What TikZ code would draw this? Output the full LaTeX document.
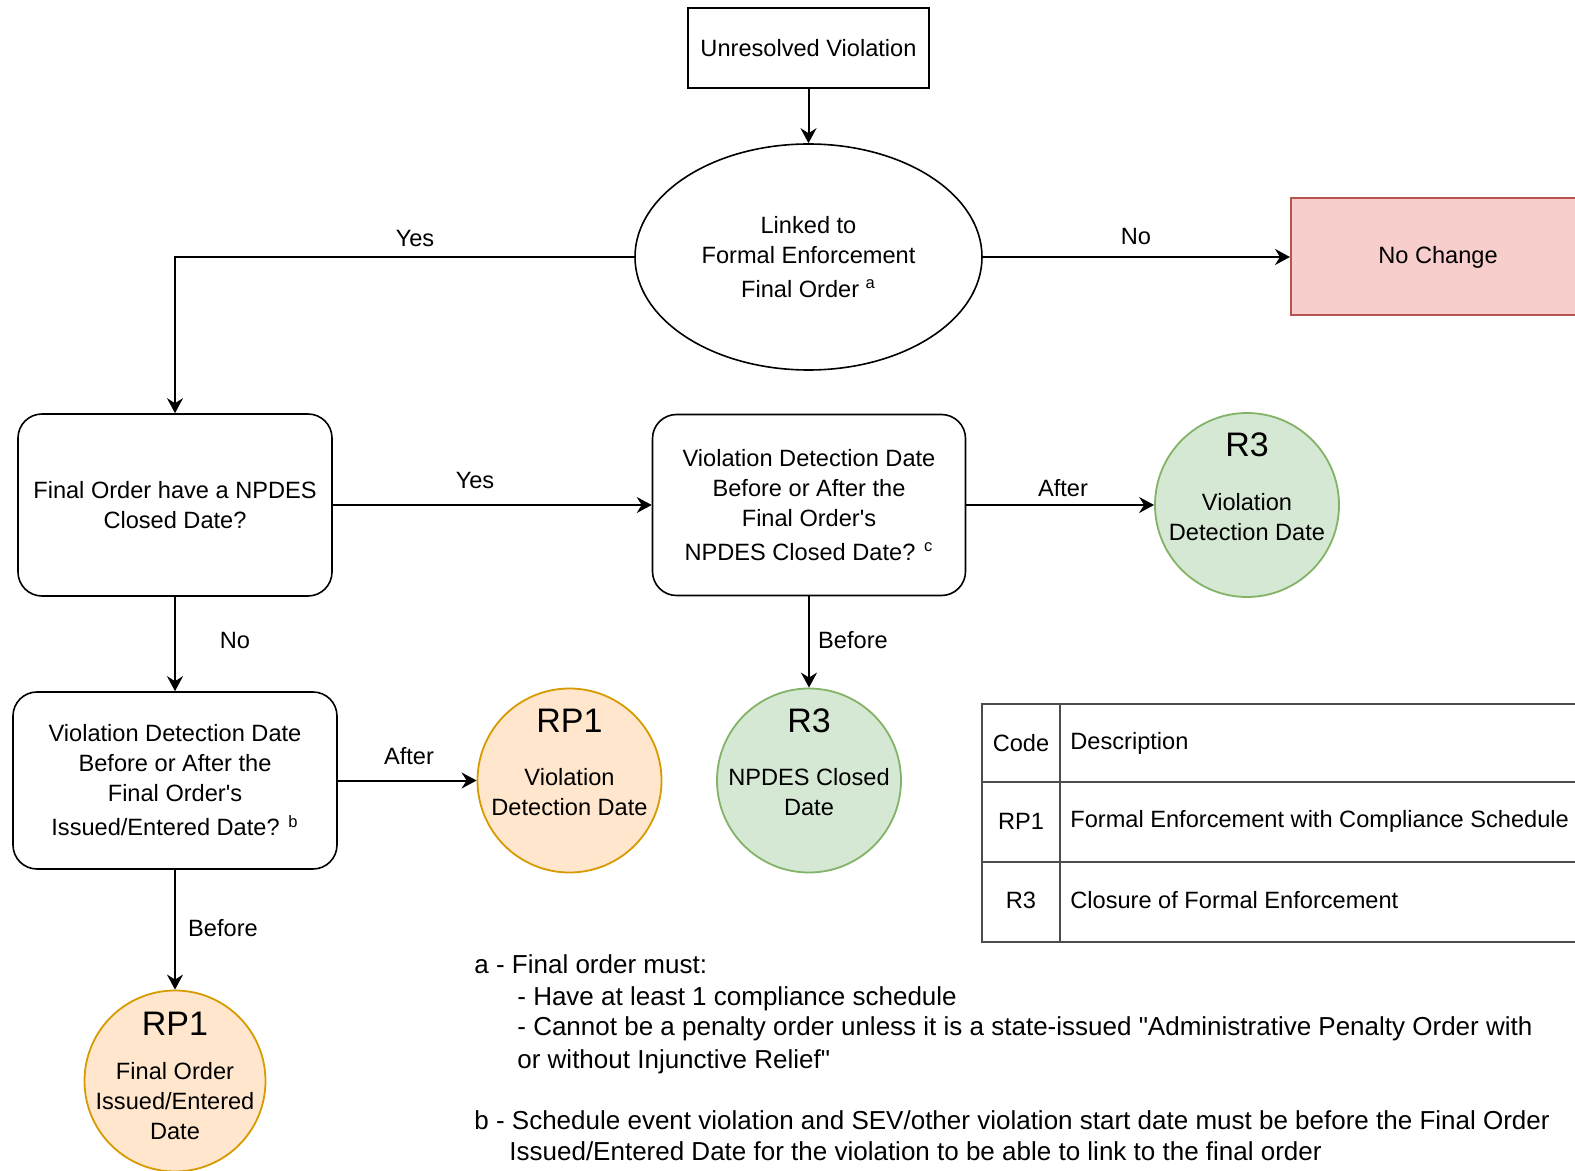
\documentclass[tikz,border=0pt]{standalone}
\usepackage{fontspec}
\setmainfont{Liberation Sans}[Ligatures=TeXOff]
\usetikzlibrary{shapes.geometric,arrows.meta,calc}
\definecolor{ncfill}{HTML}{F8CECC}
\definecolor{ncdraw}{HTML}{B85450}
\definecolor{gfill}{HTML}{D5E8D4}
\definecolor{gdraw}{HTML}{82B366}
\definecolor{ofill}{HTML}{FFE6CC}
\definecolor{odraw}{HTML}{D79B00}
\begin{document}
\begin{tikzpicture}[x=0.5pt,y=-0.5pt,
  every node/.style={font=\fontsize{11.8}{15}\selectfont, text=black},
  sqbox/.style={draw, line width=0.8pt, align=center, inner sep=0pt},
  rbox/.style={draw, line width=0.8pt, rounded corners=12pt, align=center, inner sep=0pt},
  decis/.style={draw, ellipse, line width=0.8pt, align=center, inner sep=0pt},
  ncbox/.style={draw=ncdraw, fill=ncfill, line width=1pt, inner sep=0pt},
  gcirc/.style={circle, draw=gdraw, fill=gfill, line width=0.9pt, minimum size=92pt, inner sep=0pt},
  ocirc/.style={circle, draw=odraw, fill=ofill, line width=0.9pt, minimum size=92pt, inner sep=0pt},
  big/.style={font=\fontsize{17}{20}\selectfont},
  ctext/.style={align=center, inner sep=0pt},
  arr/.style={-{Stealth[length=7.5pt,width=8pt,inset=2.5pt]}, line width=1pt},
  tbl/.style={draw=black!70, line width=0.7pt},
  note/.style={anchor=base west, inner sep=0pt, font=\fontsize{13}{15.5}\selectfont}
]
\useasboundingbox (0,0) rectangle (1575,1171);
\clip (0,0) rectangle (1575,1171);

% main nodes
\node[sqbox, minimum width=120.5pt, minimum height=40pt] (uv) at (808.5,48) {Unresolved Violation};
\node[decis, minimum width=173.5pt, minimum height=113pt] (lk) at (808.5,257) {Linked to\\Formal Enforcement\\[2pt]Final Order \textsuperscript{a}};
\node[ncbox, minimum width=147pt, minimum height=58.5pt] (nc) at (1438,257) {No Change};
\node[rbox, minimum width=157pt, minimum height=91pt] (b1) at (175,505) {Final Order have a NPDES\\Closed Date?};
\node[rbox, minimum width=156.5pt, minimum height=90.5pt] (b2) at (809,505) {Violation Detection Date\\Before or After the\\Final Order's\\[2pt]NPDES Closed Date? \textsuperscript{c}};
\node[rbox, minimum width=162pt, minimum height=88.5pt] (b3) at (175,780.5) {Violation Detection Date\\Before or After the\\Final Order's\\[2pt]Issued/Entered Date? \textsuperscript{b}};

% result circles
\node[gcirc] (g1) at (1247,505) {};
\node[big] (g1t) at ($(g1)+(0,-60)$) {R3};
\node[ctext] (g1s) at ($(g1)+(0,12)$) {Violation\\Detection Date};

\node[gcirc] (g2) at (809,780.5) {};
\node[big] (g2t) at ($(g2)+(0,-60)$) {R3};
\node[ctext] (g2s) at ($(g2)+(0,12)$) {NPDES Closed\\Date};

\node[ocirc] (o1) at (569.5,780.5) {};
\node[big] (o1t) at ($(o1)+(0,-60)$) {RP1};
\node[ctext] (o1s) at ($(o1)+(0,12)$) {Violation\\Detection Date};

\node[ocirc, minimum size=90.5pt] (o2) at (175,1081) {};
\node[big] (o2t) at ($(o2)+(0,-57)$) {RP1};
\node[ctext] (o2s) at ($(o2)+(0,20)$) {Final Order\\Issued/Entered\\Date};

% connectors
\draw[arr] (uv) -- (lk);
\draw[arr] (lk.west) -| (b1.north);
\draw[arr] (lk.east) -- (nc.west);
\draw[arr] (b1) -- (b2);
\draw[arr] (b2) -- (g1);
\draw[arr] (b2) -- (g2);
\draw[arr] (b1) -- (b3);
\draw[arr] (b3) -- (o1);
\draw[arr] (b3) -- (o2);

% edge labels
\node (l1) at (415,238) {Yes};
\node (l2) at (1136,237) {No};
\node (l3) at (475,480) {Yes};
\node (l4) at (1063,488) {After};
\node (l5) at (853,640) {Before};
\node (l6) at (235,640) {No};
\node (l7) at (409,756) {After};
\node (l8) at (223,928) {Before};

% table
\draw[tbl] (982,704) rectangle (1600,942);
\draw[tbl] (982,782) -- (1600,782);
\draw[tbl] (982,862) -- (1600,862);
\draw[tbl] (1060,704) -- (1060,942);
\node (t11) at (1021,743) {Code};
\node[anchor=west, inner sep=0pt] (t12) at (1070,743) {Description};
\node (t21) at (1021,821) {RP1};
\node[anchor=west, inner sep=0pt] (t22) at (1070,821) {Formal Enforcement with Compliance Schedule};
\node (t31) at (1021,900) {R3};
\node[anchor=west, inner sep=0pt] (t32) at (1070,900) {Closure of Formal Enforcement};

% notes
\node[note] (na1) at (474,973) {a - Final order must:};
\node[note] (na2) at (517,1005) {- Have at least 1 compliance schedule};
\node[note] (na3) at (517,1035) {- Cannot be a penalty order unless it is a state-issued "Administrative Penalty Order with};
\node[note] (na4) at (517,1068) {or without Injunctive Relief"};
\node[note] (nb1) at (474,1129) {b - Schedule event violation and SEV/other violation start date must be before the Final Order};
\node[note] (nb2) at (509,1160) {Issued/Entered Date for the violation to be able to link to the final order};
\end{tikzpicture}
\end{document}
